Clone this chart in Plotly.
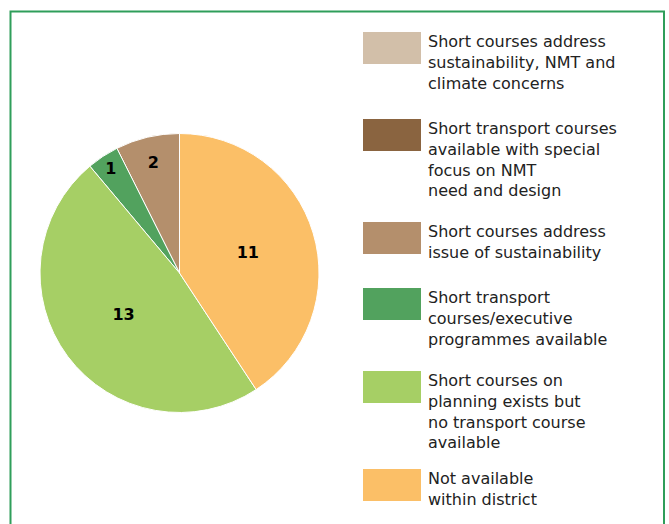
import plotly.graph_objects as go

# ---- data ----
categories = [
    "Short courses address<br>sustainability, NMT and<br>climate concerns",
    "Short transport courses<br>available with special<br>focus on NMT<br>need and design",
    "Short courses address<br>issue of sustainability",
    "Short transport<br>courses/executive<br>programmes available",
    "Short courses on<br>planning exists but<br>no transport course<br>available",
    "Not available<br>within district",
]
values = [0, 0, 2, 1, 13, 11]
colors = ["#d2bfa9", "#8a6440", "#b48f6c", "#52a25e", "#a6cf65", "#fbbf67"]

# ---- layout constants ----
W, H = 669, 524
cx, cy, r = 179.5, 273.0, 139.5
legend_tops = [32, 119, 222, 288, 371, 469]
sw_x0, sw_x1, sw_h = 363, 421, 32
text_x = 426

labels_text = [str(v) if v > 0 else "" for v in values]

fig = go.Figure(go.Pie(
    labels=[c.replace("<br>", " ") for c in categories],
    values=values,
    text=labels_text,
    textinfo="text",
    textposition="inside",
    insidetextorientation="horizontal",
    insidetextfont=dict(family="DejaVu Sans", size=16, color="black", weight="bold"),
    marker=dict(colors=colors, line=dict(color="white", width=1)),
    sort=False,
    direction="counterclockwise",
    rotation=0,
    showlegend=False,
    hoverinfo="label+value",
    domain=dict(x=[(cx - r) / W, (cx + r) / W], y=[1 - (cy + r) / H, 1 - (cy - r) / H]),
))

shapes = [dict(type="rect", xref="paper", yref="paper",
               x0=10.5 / W, x1=664 / W, y0=-0.05, y1=1 - 11.5 / H,
               line=dict(color="#2f9e5a", width=2), fillcolor="rgba(0,0,0,0)", layer="below")]
annotations = []
for cat, col, top in zip(categories, colors, legend_tops):
    shapes.append(dict(type="rect", xref="paper", yref="paper",
                       x0=sw_x0 / W, x1=sw_x1 / W, y0=1 - (top + sw_h) / H, y1=1 - top / H,
                       line=dict(width=0), fillcolor=col))
    annotations.append(dict(xref="paper", yref="paper", x=text_x / W, y=1 - (top - 2) / H,
                            xanchor="left", yanchor="top", align="left", showarrow=False,
                            text=cat, font=dict(family="DejaVu Sans", size=16, color="#222222")))

fig.update_layout(
    width=W, height=H,
    margin=dict(l=0, r=0, t=0, b=0),
    paper_bgcolor="white", plot_bgcolor="white",
    shapes=shapes, annotations=annotations,
)
fig.write_html("out.html", config={"displayModeBar": False},
               post_script="document.body.style.margin='0';")
